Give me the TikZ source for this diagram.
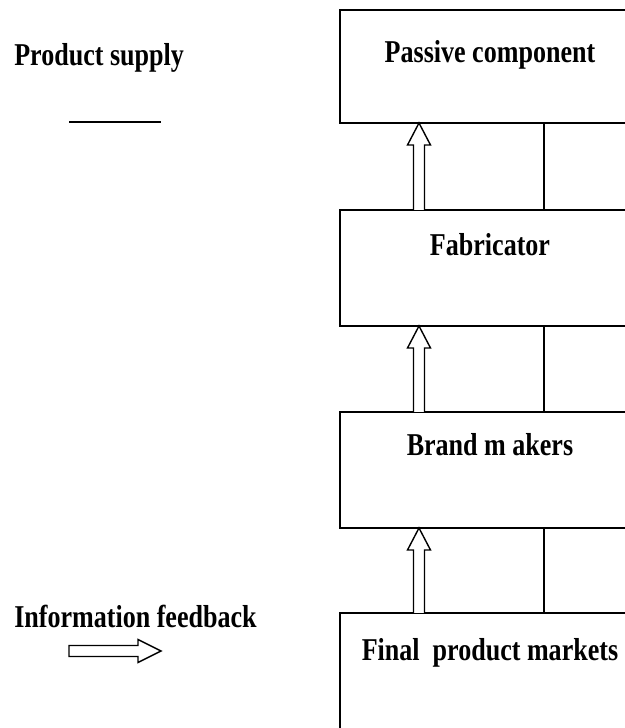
\documentclass[tikz,border=0pt]{standalone}
\usepackage{fontspec}
\setmainfont{Liberation Serif}[FakeStretch=0.82]
\usepackage{tikz}
\usetikzlibrary{positioning, calc}

\begin{document}
\begin{tikzpicture}[
  x=1cm, y=1cm,
  boite/.style={
    draw=black, line width=1pt, fill=white,
    minimum width=7.5cm, inner sep=0pt, outer sep=0pt,
    anchor=north west
  },
  etiquette/.style={
    font=\bfseries\fontsize{22.6}{27}\selectfont, inner sep=0pt
  },
  creux/.style={
    draw=black, line width=1pt, fill=white
  },
  trait/.style={
    draw=black, line width=1pt
  }
]
\useasboundingbox (0,0) rectangle (15.625,18.2);
\clip (0,0) rectangle (15.625,18.2);

% ----- Chaîne (à droite) -----
\node[boite, minimum height=2.825cm] (passive) at (8.5, 17.95) {};
\node[boite, minimum height=2.9cm]   (fab)     at (8.5, 12.95) {};
\node[boite, minimum height=2.9cm]   (brand)   at (8.5, 7.9) {};
\node[boite, minimum height=3.2cm]   (final)   at (8.5, 2.875) {};

\node[etiquette, anchor=base] (passivelbl) at (12.25, 16.625) {Passive component};
\node[etiquette, anchor=base] (fablbl)     at (12.25, 11.8)   {Fabricator};
\node[etiquette, anchor=base] (brandlbl)   at (12.25, 6.8)    {Brand m akers};
\node[etiquette, anchor=base] (finallbl)   at (12.25, 1.7)    {Final~~product markets};

% Liaisons entre les boîtes : flèche creuse (information) + trait (produit)
\coordinate (fx) at (10.475, 0);
\coordinate (lx) at (13.6, 0);
\foreach \bas/\haut in {fab/passive, brand/fab, final/brand} {
  \draw[creux] ([xshift=-1.375mm]fx |- \bas.north)
    -- ([xshift=-1.375mm, yshift=-5.5mm]fx |- \haut.south)
    -- ([xshift=-2.875mm, yshift=-5.5mm]fx |- \haut.south)
    -- (fx |- \haut.south)
    -- ([xshift=2.875mm, yshift=-5.5mm]fx |- \haut.south)
    -- ([xshift=1.375mm, yshift=-5.5mm]fx |- \haut.south)
    -- ([xshift=1.375mm]fx |- \bas.north);
  \draw[trait] (lx |- \bas.north) -- (lx |- \haut.south);
}

% ----- Légende -----
\node[etiquette, anchor=base west] (supplylbl) at (0.35, 16.55) {Product supply};
\draw[trait] (1.725, 15.15) -- (4.025, 15.15);

\node[etiquette, anchor=base west] (infolbl) at (0.35, 2.5) {Information feedback};
\draw[creux] (1.725, 1.7875) -- (3.45, 1.7875) -- (3.45, 1.6375) -- (4.025, 1.925)
  -- (3.45, 2.2125) -- (3.45, 2.0625) -- (1.725, 2.0625) -- cycle;

\end{tikzpicture}
\end{document}
